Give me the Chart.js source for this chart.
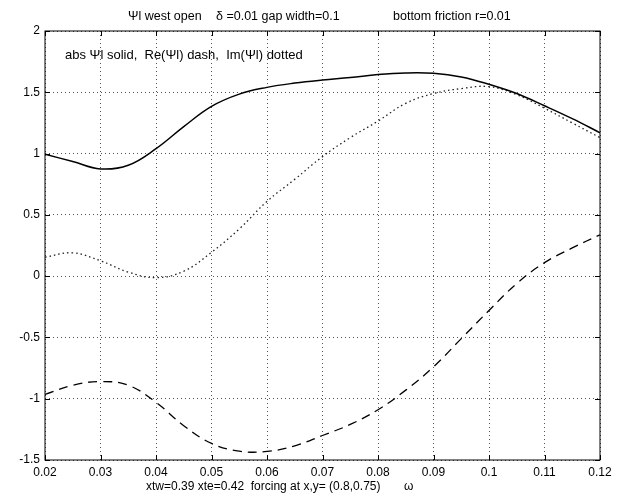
<!DOCTYPE html>
<html>
<head>
<meta charset="utf-8">
<script src="https://cdn.jsdelivr.net/npm/chart.js@4.4.1/dist/chart.umd.min.js"></script>
<style>
  html, body { margin: 0; padding: 0; background: #fff; }
  #wrap { width: 620px; height: 494px; }
</style>
</head>
<body>
<div id="wrap"><canvas id="myChart" width="620" height="494"></canvas></div>
<script>
var omega = [0.02, 0.025, 0.03, 0.035, 0.04, 0.045, 0.05, 0.055, 0.06, 0.065, 0.07,
             0.075, 0.08, 0.085, 0.09, 0.095, 0.1, 0.105, 0.11, 0.115, 0.12];
var absPsi = [0.995, 0.935, 0.875, 0.905, 1.04, 1.22, 1.385, 1.485, 1.54, 1.575, 1.6,
              1.62, 1.645, 1.658, 1.655, 1.625, 1.565, 1.49, 1.39, 1.285, 1.17];
var rePsi = [-0.965, -0.89, -0.86, -0.89, -1.03, -1.22, -1.365, -1.428, -1.43, -1.385, -1.3,
             -1.21, -1.09, -0.93, -0.74, -0.51, -0.28, -0.06, 0.11, 0.23, 0.338];
var imPsi = [0.155, 0.19, 0.125, 0.033, -0.012, 0.04, 0.195, 0.385, 0.61, 0.79, 0.975,
             1.13, 1.265, 1.41, 1.49, 1.53, 1.546, 1.48, 1.37, 1.25, 1.13];
var xTicks = [0.02, 0.03, 0.04, 0.05, 0.06, 0.07, 0.08, 0.09, 0.1, 0.11, 0.12];
var yTicks = [-1.5, -1, -0.5, 0, 0.5, 1, 1.5, 2];

function pts(ys) {
  return omega.map(function (x, i) { return { x: x, y: ys[i] }; });
}

Chart.defaults.font.family = '"Liberation Sans", Arial, sans-serif';
Chart.defaults.font.size = 12;
Chart.defaults.color = '#000';

// box, inward ticks and the texts, drawn on top like matlab does
var textPlugin = {
  id: 'textPlugin',
  afterDraw: function (chart) {
    var ctx = chart.ctx, a = chart.chartArea;
    var x = chart.scales.x, y = chart.scales.y;
    ctx.save();
    ctx.strokeStyle = '#000';
    ctx.lineWidth = 1;
    ctx.strokeRect(a.left, a.top, a.right - a.left, a.bottom - a.top);
    ctx.beginPath();
    xTicks.forEach(function (v) {
      var px = Math.round(x.getPixelForValue(v)) + 0.5;
      ctx.moveTo(px, a.bottom); ctx.lineTo(px, a.bottom - 5);
      ctx.moveTo(px, a.top); ctx.lineTo(px, a.top + 5);
    });
    yTicks.forEach(function (v) {
      var py = Math.round(y.getPixelForValue(v)) + 0.5;
      ctx.moveTo(a.left, py); ctx.lineTo(a.left + 5, py);
      ctx.moveTo(a.right, py); ctx.lineTo(a.right - 5, py);
    });
    ctx.stroke();

    ctx.fillStyle = '#000';
    ctx.textBaseline = 'middle';
    ctx.textAlign = 'left';
    ctx.font = '12.5px "Liberation Sans", Arial, sans-serif';
    ctx.fillText('\u03A8l west open', 128, 17);
    ctx.fillText('\u03B4 =0.01 gap width=0.1', 216, 17);
    ctx.fillText('bottom friction r=0.01', 393, 17);
    ctx.font = '13px "Liberation Sans", Arial, sans-serif';
    ctx.fillText('abs \u03A8l solid,  Re(\u03A8l) dash,  Im(\u03A8l) dotted', 65, 55);
    ctx.font = '12px "Liberation Sans", Arial, sans-serif';
    ctx.fillText('xtw=0.39 xte=0.42  forcing at x,y= (0.8,0.75)', 146, 487);
    ctx.fillText('\u03C9', 404, 487);
    ctx.restore();
  }
};

new Chart('myChart', {
  type: 'line',
  data: {
    datasets: [
      { label: 'abs', data: pts(absPsi), borderColor: '#000', borderWidth: 1.5 },
      { label: 'Re', data: pts(rePsi), borderColor: '#000', borderWidth: 1.3, borderDash: [9, 6] },
      { label: 'Im', data: pts(imPsi), borderColor: '#222', borderWidth: 1.3, borderDash: [1.5, 3] }
    ]
  },
  options: {
    responsive: false,
    animation: false,
    layout: { padding: { top: 31, right: 20, left: 0, bottom: 0 } },
    elements: {
      point: { radius: 0 },
      line: { tension: 0.4, fill: false }
    },
    plugins: {
      legend: { display: false },
      title: { display: false },
      tooltip: { enabled: false }
    },
    scales: {
      x: {
        type: 'linear',
        min: 0.02,
        max: 0.12,
        afterBuildTicks: function (s) { s.ticks = xTicks.map(function (v) { return { value: v }; }); },
        afterFit: function (s) { s.height = 34; },
        ticks: { padding: 5, maxRotation: 0, autoSkip: false,
                 callback: function (v) { return String(+v.toFixed(2)); } },
        grid: { color: '#555', lineWidth: 1, drawTicks: false },
        border: { display: false, dash: [1, 3] }
      },
      y: {
        min: -1.5,
        max: 2,
        afterBuildTicks: function (s) { s.ticks = yTicks.map(function (v) { return { value: v }; }); },
        afterFit: function (s) { s.width = 45; },
        ticks: { padding: 5, autoSkip: false,
                 callback: function (v) { return String(v); } },
        grid: { color: '#555', lineWidth: 1, drawTicks: false },
        border: { display: false, dash: [1, 3] }
      }
    }
  },
  plugins: [textPlugin]
});
</script>
</body>
</html>
